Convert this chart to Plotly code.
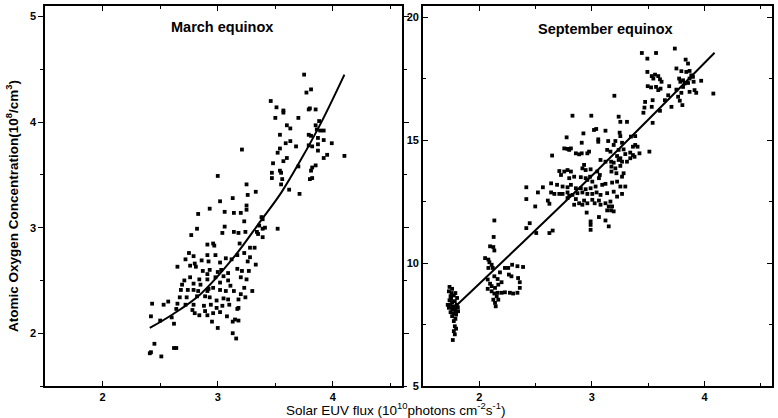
import plotly.graph_objects as go

# ---------------- March equinox data ----------------
march_flux = [
    3.02, 3.13, 3.26, 3.33, 2.83, 2.93, 3.06, 3.14, 3.20, 3.25, 3.25, 2.82, 2.77, 3.06, 3.04, 3.14, 3.18, 3.24, 3.23,
    2.91, 2.96, 2.97, 3.19, 2.75, 2.72, 2.79, 2.80, 2.86, 2.91, 2.92, 2.98, 3.02, 3.07, 3.12, 3.17, 3.23, 3.28, 3.32,
    3.28, 3.26, 2.65, 2.76, 2.81, 2.87, 2.93, 3.00, 3.03, 3.05, 3.09, 3.17, 3.21, 3.27, 3.33, 2.76, 2.71, 2.84, 2.91,
    2.79, 2.85, 2.91, 2.98, 3.02, 3.09, 3.11, 3.20, 3.25, 3.23, 3.30, 2.69, 2.68, 2.74, 2.79, 2.83, 2.92, 2.96, 3.02,
    3.07, 3.14, 3.20, 2.67, 2.73, 2.82, 2.89, 2.91, 2.93, 2.99, 3.05, 3.09, 3.18, 3.24, 2.43, 2.53, 2.57, 2.65, 2.72,
    2.79, 2.88, 2.94, 2.99, 3.04, 3.10, 3.18, 3.17, 2.64, 2.78, 2.80, 2.84, 2.89, 2.91, 2.96, 3.02, 3.08, 3.15, 3.18,
    2.42, 2.50, 2.60, 2.62, 2.95, 3.00, 3.13, 3.13, 3.16, 2.45, 2.42, 2.41, 2.51, 2.62, 2.64,
    3.75, 3.81, 3.77, 3.46, 3.51, 3.57, 3.57, 3.50, 3.79, 3.80, 3.85, 3.70, 3.60, 3.63, 3.88, 3.85, 3.86, 3.89, 3.92,
    3.79, 3.81, 3.87, 3.92, 3.99, 3.54, 3.59, 3.63, 3.68, 3.54, 3.52, 3.79, 3.82, 3.87, 3.87, 3.95, 3.92, 4.10, 3.60,
    3.57, 3.48, 3.70, 3.85, 3.82, 3.81, 3.54, 3.55, 3.47, 3.47, 3.56, 3.55, 3.80, 3.82, 3.62, 3.71, 3.21, 3.25, 3.38,
    3.39, 3.36, 3.39, 3.41, 3.34, 3.35, 3.39, 3.52, 3.00,
]
march_oxygen = [
    3.25, 3.28, 3.31, 3.34, 3.13, 3.18, 3.15, 3.14, 3.14, 3.17, 3.21, 2.99, 2.93, 3.01, 2.95, 2.96, 2.95, 2.96, 3.06,
    2.84, 2.85, 2.83, 2.85, 2.76, 2.70, 2.73, 2.66, 2.69, 2.74, 2.68, 2.74, 2.67, 2.71, 2.70, 2.74, 2.76, 2.81, 2.81,
    2.72, 2.68, 2.63, 2.64, 2.63, 2.59, 2.60, 2.58, 2.60, 2.54, 2.57, 2.61, 2.59, 2.59, 2.65, 2.53, 2.50, 2.51, 2.56,
    2.47, 2.46, 2.51, 2.53, 2.48, 2.50, 2.45, 2.53, 2.51, 2.43, 2.40, 2.46, 2.41, 2.41, 2.41, 2.40, 2.42, 2.43, 2.41,
    2.40, 2.40, 2.37, 2.34, 2.34, 2.35, 2.35, 2.40, 2.34, 2.31, 2.33, 2.32, 2.32, 2.34, 2.28, 2.27, 2.30, 2.28, 2.27,
    2.27, 2.26, 2.27, 2.24, 2.26, 2.27, 2.24, 2.23, 2.23, 2.22, 2.19, 2.17, 2.21, 2.17, 2.19, 2.20, 2.16, 2.13, 2.12,
    2.16, 2.12, 2.15, 2.09, 2.11, 2.05, 2.11, 2.00, 1.95, 1.90, 1.82, 1.81, 1.78, 1.86, 1.86,
    4.45, 4.31, 4.28, 4.20, 4.14, 4.11, 4.09, 4.04, 4.12, 4.13, 4.12, 4.04, 3.97, 3.94, 4.01, 3.97, 3.93, 3.92, 3.92,
    3.88, 3.87, 3.85, 3.83, 3.80, 3.88, 3.80, 3.82, 3.77, 3.75, 3.71, 3.78, 3.77, 3.73, 3.79, 3.69, 3.66, 3.68, 3.66,
    3.63, 3.61, 3.58, 3.59, 3.57, 3.54, 3.54, 3.52, 3.52, 3.47, 3.46, 3.41, 3.46, 3.47, 3.36, 3.32, 3.74, 3.41, 3.10,
    3.08, 3.02, 2.99, 3.00, 2.96, 2.94, 2.91, 2.99, 3.49,
]
march_fit_flux = [2.41, 2.61, 2.85, 3.14, 3.37, 3.55, 3.72, 3.90, 4.10]
march_fit_oxygen = [2.05, 2.18, 2.37, 2.72, 3.06, 3.33, 3.64, 4.00, 4.45]

# ---------------- September equinox data ----------------
sept_flux = [
    2.134, 2.128, 2.096, 2.125, 2.134, 2.052, 2.081, 2.09, 2.11, 2.12, 2.081, 2.228, 2.257, 2.292, 2.339, 2.389,
    2.184, 2.134, 2.163, 2.198, 2.263, 2.286, 2.345, 2.36, 2.075, 2.096, 2.11, 2.14, 2.169, 2.075, 2.11, 2.134,
    2.163, 2.198, 2.228, 2.272, 2.301, 2.339, 2.36, 2.155, 2.169, 2.125, 2.14, 2.146,
    1.736, 1.759, 1.730, 1.753, 1.788, 1.745, 1.774, 1.803, 1.736, 1.759, 1.783, 1.745, 1.774, 1.730, 1.759, 1.788,
    1.812, 1.745, 1.774, 1.794, 1.759, 1.788, 1.774, 1.783, 1.794, 1.774, 1.783, 1.765, 1.72, 1.80, 1.76, 1.79,
    1.75, 1.81,
    2.828, 2.995, 3.238, 3.253, 3.312, 3.039, 3.019, 3.121, 2.925, 2.776, 3.057, 3.057, 2.91, 3.145, 3.209, 3.194,
    2.755, 2.784, 2.799, 2.814, 2.858, 2.887, 2.91, 2.96, 2.975, 2.647, 3.136, 3.165, 3.238, 3.282, 3.297, 3.224,
    3.253, 3.077, 3.121, 3.171, 3.194, 3.238, 3.268, 3.312, 2.931, 2.945, 2.916, 2.989, 3.048, 3.174, 3.209, 3.253,
    3.174, 3.218, 3.282, 3.268, 2.711, 2.755, 2.784, 2.814, 2.726, 2.799, 2.843, 2.902, 2.945, 2.96, 2.984, 3.004,
    3.063, 3.071,
    2.418, 2.565, 2.638, 2.691, 2.740, 2.784, 2.814, 2.858, 2.902, 2.945, 2.989, 3.033, 3.092, 3.121, 3.18, 3.224,
    3.253, 3.297,
    2.521, 2.638, 2.667, 2.711, 2.740, 2.784, 2.828, 2.872, 2.916, 2.96, 3.004, 3.042, 3.077, 3.136, 3.194, 3.224,
    3.268,
    2.418, 2.497, 2.609, 2.623, 2.784, 2.799, 2.858, 2.887, 2.931, 2.96, 2.916, 2.843, 3.004, 3.025, 3.063, 3.077,
    3.121, 3.165, 3.150, 3.180, 3.136, 3.171, 3.194, 2.954,
    3.063, 3.121, 2.989, 2.989, 2.989, 3.150, 2.448, 2.418, 2.506, 2.623, 2.652,
    3.737, 3.444, 3.57, 3.493, 3.833, 3.751, 3.854, 3.795, 3.839, 3.868, 3.883, 3.898, 3.493, 3.532, 3.561, 3.59,
    3.605, 3.546, 3.619, 3.496, 3.526, 3.57, 3.59, 3.61, 3.775, 3.786, 3.81, 3.824, 3.854, 3.868, 3.904, 3.971,
    3.912, 3.868, 3.687, 3.751, 3.81, 3.795, 3.766, 3.781, 3.804, 3.927, 4.079, 3.678, 3.707, 3.649, 3.473, 3.54,
    3.532, 3.467, 3.458, 3.605, 3.54, 3.247, 3.253, 3.268, 3.347, 3.385, 3.365, 3.385, 3.406, 3.341, 3.365, 3.423,
    3.379, 3.341, 3.511, 3.20,
]
sept_oxygen = [
    11.73, 11.06, 10.68, 10.65, 10.51, 10.20, 10.14, 10.03, 9.93, 9.80, 9.80, 9.80, 9.80, 9.93, 9.87, 9.84,
    9.62, 9.46, 9.35, 9.22, 9.53, 9.46, 9.39, 9.22, 9.33, 9.16, 9.06, 8.99, 9.12, 8.95, 8.85, 8.76,
    8.79, 8.79, 8.81, 8.79, 8.76, 8.79, 8.99, 8.65, 8.51, 8.51, 8.38, 8.24,
    9.03, 8.95, 8.85, 8.78, 8.78, 8.65, 8.68, 8.58, 8.49, 8.41, 8.45, 8.31, 8.24, 8.18, 8.11, 8.11,
    8.04, 8.00, 7.95, 7.90, 7.84, 7.73, 7.64, 7.43, 7.33, 7.23, 7.10, 6.87, 8.30, 8.30, 8.22, 8.00,
    8.55, 8.20,
    15.99, 15.99, 15.95, 15.74, 15.74, 15.45, 15.41, 15.38, 15.27, 15.11, 15.03, 14.93, 14.89, 14.96, 14.96, 14.80,
    14.66, 14.64, 14.60, 14.66, 14.46, 14.42, 14.46, 14.46, 14.53, 14.37, 14.60, 14.53, 14.60, 14.62, 14.43, 14.35,
    14.26, 14.19, 14.12, 14.12, 14.08, 14.19, 14.12, 14.12, 13.99, 13.78, 13.85, 13.81, 13.72, 13.92, 13.85, 13.95,
    13.72, 13.65, 13.65, 13.51, 13.74, 13.72, 13.78, 13.72, 13.58, 13.45, 13.51, 13.49, 13.45, 13.38, 13.51, 13.31,
    13.45, 13.58,
    13.08, 13.08, 13.24, 13.18, 13.11, 13.08, 13.18, 13.04, 13.04, 13.00, 13.04, 13.11, 13.18, 13.22, 13.27, 13.31,
    13.11, 13.11,
    12.87, 12.87, 12.81, 12.81, 12.81, 12.87, 12.77, 12.84, 12.87, 12.81, 12.81, 12.87, 12.77, 12.84, 12.90, 12.70,
    12.81,
    12.60, 12.30, 12.54, 12.41, 12.64, 12.73, 12.60, 12.43, 12.54, 12.43, 12.37, 12.37, 12.57, 12.43, 12.54, 12.37,
    12.43, 12.50, 12.30, 12.30, 12.14, 12.14, 12.10, 12.05,
    11.87, 11.73, 11.69, 11.55, 11.35, 11.49, 11.62, 11.42, 11.22, 11.22, 11.32,
    18.72, 18.54, 18.54, 18.31, 18.27, 17.91, 18.11, 17.80, 17.77, 17.81, 17.63, 17.57, 17.77, 17.60, 17.66, 17.60,
    17.47, 17.50, 17.37, 17.19, 17.14, 17.16, 17.03, 17.09, 17.50, 17.37, 17.43, 17.30, 17.32, 17.50, 17.37, 17.41,
    17.03, 16.96, 17.19, 17.05, 17.16, 16.92, 16.76, 16.60, 16.42, 16.92, 16.89, 16.82, 16.35, 16.62, 16.55, 16.62,
    16.35, 16.32, 16.11, 16.19, 15.70, 15.30, 15.16, 14.89, 15.14, 15.16, 14.73, 14.80, 14.73, 14.49, 14.39, 14.46,
    14.32, 14.26, 14.53, 16.80,
]
sept_fit_flux = [1.78, 3.00, 4.09]
sept_fit_oxygen = [8.2, 13.55, 18.55]

x_ticks = [2, 3, 4]
march_y_ticks = [2, 3, 4, 5]
sept_y_ticks = [5, 10, 15, 20]

FONT = "Liberation Sans, Arial, sans-serif"
marker = dict(symbol="square", size=3.8, color="black", line=dict(width=0))

fig = go.Figure()
fig.add_trace(go.Scatter(x=march_flux, y=march_oxygen, mode="markers", marker=marker,
                         xaxis="x", yaxis="y", showlegend=False))
fig.add_trace(go.Scatter(x=march_fit_flux, y=march_fit_oxygen, mode="lines",
                         line=dict(color="black", width=2, shape="spline"),
                         xaxis="x", yaxis="y", showlegend=False))
fig.add_trace(go.Scatter(x=sept_flux, y=sept_oxygen, mode="markers", marker=marker,
                         xaxis="x2", yaxis="y2", showlegend=False))
fig.add_trace(go.Scatter(x=sept_fit_flux, y=sept_fit_oxygen, mode="lines",
                         line=dict(color="black", width=2, shape="spline"),
                         xaxis="x2", yaxis="y2", showlegend=False))

tickfont = dict(family=FONT, size=11, color="black")
common = dict(showline=True, linecolor="black", linewidth=1.6, mirror="ticks", showgrid=False,
              zeroline=False, tickfont=tickfont, tickcolor="black", tickwidth=1.3, ticklen=5)

W, H = 778, 418
ml, mr, mt, mb = 45, 4, 4, 32
pw = W - ml - mr
ph = H - mt - mb
d1 = [0, (403 - ml) / pw]
d2 = [(424 - ml) / pw, 1]

fig.update_layout(
    width=W, height=H,
    margin=dict(l=ml, r=mr, t=mt, b=mb),
    paper_bgcolor="white", plot_bgcolor="white",
    font=dict(family=FONT, color="black"),
    xaxis=dict(domain=d1, range=[1.5, 4.6], tickvals=x_ticks, ticktext=[f"<b>{v}</b>" for v in x_ticks],
               ticks="inside", minor=dict(ticks="inside", dtick=0.5, ticklen=3, tickcolor="black"),
               anchor="y", **common),
    yaxis=dict(domain=[0, 1], range=[1.5, 5.1], tickvals=march_y_ticks,
               ticktext=[f"<b>{v}</b>" for v in march_y_ticks],
               ticks="outside", minor=dict(ticks="outside", dtick=0.5, ticklen=3, tickcolor="black"),
               anchor="x", **common),
    xaxis2=dict(domain=d2, range=[1.5, 4.6], tickvals=x_ticks, ticktext=[f"<b>{v}</b>" for v in x_ticks],
                ticks="inside", minor=dict(ticks="inside", dtick=0.5, ticklen=3, tickcolor="black"),
                anchor="y2", **common),
    yaxis2=dict(domain=[0, 1], range=[5, 20.45], tickvals=sept_y_ticks,
                ticktext=[f"<b>{v}</b>" for v in sept_y_ticks],
                ticks="inside", minor=dict(ticks="inside", dtick=2.5, ticklen=3, tickcolor="black"),
                anchor="x2", **common),
)

fig.add_annotation(text="<b>March equinox</b>", xref="paper", yref="paper",
                   x=(222 - ml) / pw, y=1 - (25 - mt) / ph, showarrow=False,
                   font=dict(family=FONT, size=14.5, color="black"), xanchor="center", yanchor="middle")
fig.add_annotation(text="<b>September equinox</b>", xref="paper", yref="paper",
                   x=(607 - ml) / pw, y=1 - (27 - mt) / ph, showarrow=False,
                   font=dict(family=FONT, size=14.5, color="black"), xanchor="center", yanchor="middle")
fig.add_annotation(text="<b>Atomic Oxygen Concentration(10<sup>8</sup>/cm<sup>3</sup>)</b>",
                   xref="paper", yref="paper", x=(12 - ml) / pw, y=1 - (205 - mt) / ph,
                   textangle=-90, showarrow=False, xanchor="center", yanchor="middle",
                   font=dict(family=FONT, size=13.5, color="black"))
fig.add_annotation(text="Solar EUV flux (10<sup>10</sup>photons cm<sup>-2</sup>s<sup>-1</sup>)",
                   xref="paper", yref="paper", x=(396 - ml) / pw, y=-(409 - 386) / ph,
                   showarrow=False, xanchor="center", yanchor="middle",
                   font=dict(family="Liberation Sans Narrow, Liberation Sans, Arial", size=13.5, color="black"))

fig.write_html("out.html", config={"displayModeBar": False},
               post_script="document.body.style.margin='0';document.body.style.overflow='hidden';")
